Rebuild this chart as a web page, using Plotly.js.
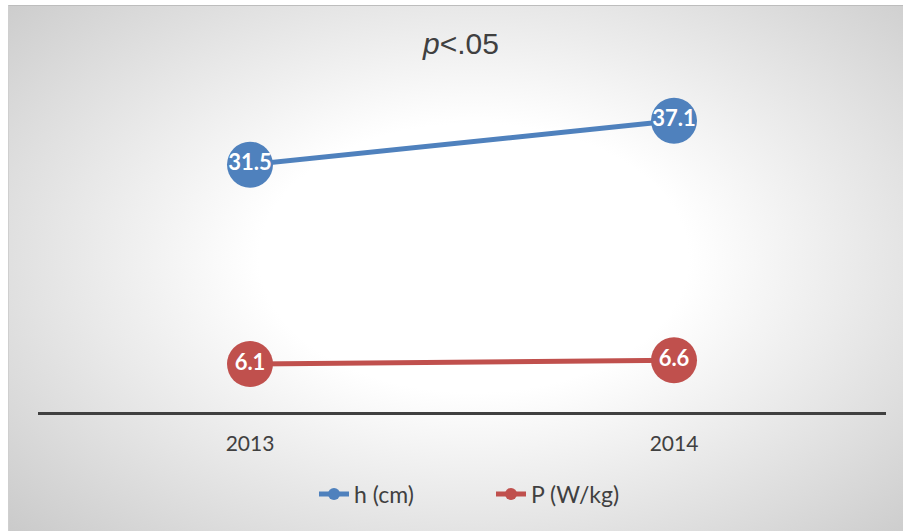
<!DOCTYPE html>
<html>
<head>
<meta charset="utf-8">
<script src="https://cdn.plot.ly/plotly-3.0.1.min.js"></script>
<style>
  html, body { margin: 0; padding: 0; width: 903px; height: 531px; background: #ffffff; overflow: hidden; }
  #bg { position: absolute; left: 8px; top: 5px; width: 895px; height: 526px; box-sizing: border-box;
        border-top: 1px solid #bdbdbd; border-left: 1px solid #cfcfcf;
        background: radial-gradient(ellipse 75% 80% at 52% 48%, #ffffff 0%, #ffffff 32%, #e6e6e6 62%, #c6c6c6 100%); }
  #chart { position: absolute; left: 0; top: 0; width: 903px; height: 531px; }
</style>
</head>
<body>
<div id="bg"></div>
<div id="chart"></div>
<script>
const categories = ['2013', '2014'];
const seriesNames = ['h (cm)', 'P (W/kg)'];
const hValues = [31.5, 37.1];
const pValues = [6.1, 6.6];
const colors = ['#4F81BD', '#C0504D'];

function makeTrace(name, values, color) {
  return {
    type: 'scatter',
    mode: 'lines+markers+text',
    name: name,
    x: categories,
    y: values,
    text: values.map(v => v.toFixed(1)),
    textposition: 'middle center',
    textfont: { family: 'Lato, "Open Sans", sans-serif', size: 22, color: '#ffffff', weight: 'bold' },
    line: { color: color, width: 5 },
    marker: { color: color, size: 46 },
    cliponaxis: false,
    hoverinfo: 'x+y'
  };
}

const data = [
  makeTrace(seriesNames[0], hValues, colors[0]),
  makeTrace(seriesNames[1], pValues, colors[1])
];

const layout = {
  width: 903, height: 531,
  paper_bgcolor: 'rgba(0,0,0,0)',
  plot_bgcolor: 'rgba(0,0,0,0)',
  margin: { l: 38, r: 17, t: 98, b: 119 },
  title: {
    text: '<i>p</i><.05',
    font: { family: '"Liberation Sans", Arial, sans-serif', size: 30, color: '#404040' },
    x: 461 / 903, xanchor: 'center', xref: 'container',
    y: 1 - 43 / 531, yanchor: 'middle', yref: 'container'
  },
  xaxis: {
    type: 'category',
    range: [-0.5, 1.5],
    showgrid: false, zeroline: false,
    showline: true, linecolor: '#404040', linewidth: 3,
    ticks: '',
    ticklabelstandoff: 11,
    tickfont: { family: 'Lato, "Open Sans", sans-serif', size: 21, color: '#404040' },
    fixedrange: true
  },
  yaxis: {
    range: [0, 40],
    visible: false,
    fixedrange: true
  },
  showlegend: true,
  legend: {
    orientation: 'h',
    x: 276 / 848, xanchor: 'left',
    y: -82 / 314, yanchor: 'middle',
    font: { family: 'Lato, "Open Sans", sans-serif', size: 23, color: '#404040' },
    itemsizing: 'constant',
    entrywidth: 132,
    bgcolor: 'rgba(0,0,0,0)'
  }
};

Plotly.newPlot('chart', data, layout, { displayModeBar: false, staticPlot: true });
</script>
</body>
</html>
